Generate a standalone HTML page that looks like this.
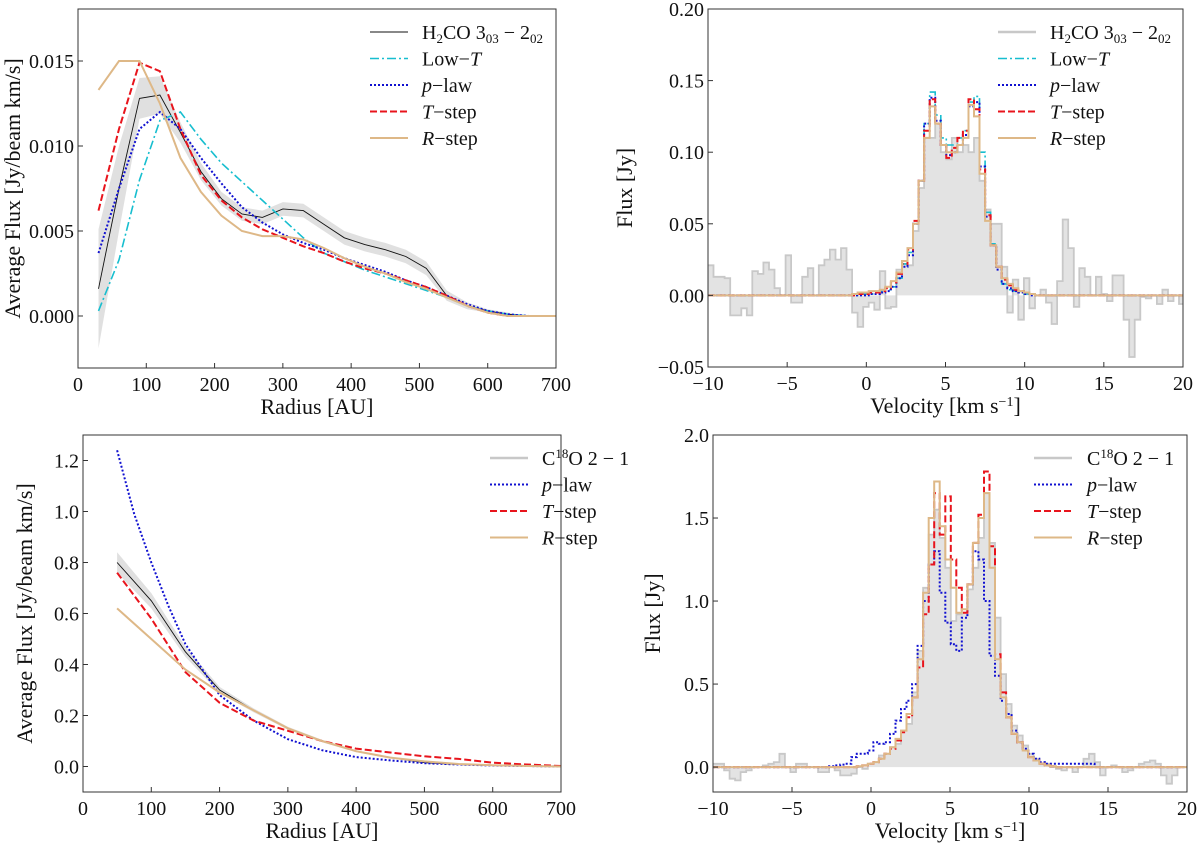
<!DOCTYPE html>
<html><head><meta charset="utf-8">
<style>
html,body{margin:0;padding:0;background:#fff;}
svg{display:block;}
svg text{font-family:"Liberation Serif","DejaVu Serif",serif;}
</style></head>
<body>
<svg id="fig" width="1200" height="845" viewBox="0 0 1200 845" xmlns="http://www.w3.org/2000/svg" font-family="'Liberation Serif', 'DejaVu Serif', serif"></svg>
<script>
// ---------- Data: top-left H2CO radial profile ----------
const tlR = [30,60,90,120,150,180,210,240,270,300,330,360,390,420,450,480,510,540,570,600,630,660,700];
const tlObs = [0.0016,0.0075,0.0128,0.0130,0.0108,0.0085,0.0069,0.0060,0.0058,0.0063,0.0062,0.0054,0.0046,0.0042,0.0039,0.0035,0.0028,0.0012,0.0006,0.0003,0.0001,0.0,0.0];
const tlErr = [0.0035,0.0025,0.0012,0.0011,0.0006,0.0005,0.0004,0.0004,0.0004,0.0004,0.0004,0.0004,0.0004,0.0004,0.0004,0.0004,0.0004,0.0003,0.0002,0.0001,0.0001,0.0,0.0];
const tlLowT = [0.0003,0.0033,0.0080,0.0115,0.0120,0.0104,0.0090,0.0079,0.0068,0.0057,0.0046,0.0037,0.0032,0.0027,0.0023,0.0019,0.0015,0.0011,0.0006,0.0003,0.0001,0.0,0.0];
const tlPlaw = [0.0037,0.0075,0.0110,0.0120,0.0110,0.0093,0.0078,0.0064,0.0055,0.0048,0.0043,0.0039,0.0034,0.0030,0.0026,0.0021,0.0017,0.0012,0.0007,0.0003,0.0001,0.0,0.0];
const tlTstep = [0.0062,0.0110,0.0149,0.0144,0.0110,0.0083,0.0068,0.0058,0.0051,0.0046,0.0041,0.0037,0.0032,0.0028,0.0025,0.0021,0.0017,0.0012,0.0006,0.0002,0.0,0.0,0.0];
const tlRstep = [0.0133,0.0150,0.0150,0.0125,0.0093,0.0073,0.0059,0.0050,0.0047,0.0047,0.0045,0.0040,0.0034,0.0029,0.0025,0.0020,0.0016,0.0011,0.0006,0.0002,0.0,0.0,0.0];
const tlYTicks = [0,0.005,0.010,0.015];
const tlYLabels = ["0.000","0.005","0.010","0.015"];
const radTicks = [0,100,200,300,400,500,600,700];

// ---------- Data: bottom-left C18O radial profile ----------
const blR = [50,100,150,200,250,300,350,400,450,500,550,600,650,700];
const blObs = [0.80,0.65,0.45,0.30,0.22,0.15,0.10,0.06,0.035,0.015,0.008,0.004,0.002,0.0];
const blErr = [0.04,0.03,0.02,0.012,0.008,0.006,0.005,0.004,0.003,0.002,0.001,0.001,0.0,0.0];
const blPR = [50,75,100,125,150,175,200,250,300,350,400,450,500,550,600,650,700];
const blPlaw = [1.24,0.99,0.80,0.63,0.48,0.38,0.28,0.18,0.107,0.064,0.037,0.024,0.013,0.008,0.004,0.002,0.0];
const blTstep = [0.76,0.58,0.37,0.25,0.18,0.14,0.10,0.07,0.055,0.04,0.03,0.015,0.008,0.002];
const blRstep = [0.62,0.50,0.38,0.29,0.22,0.15,0.10,0.06,0.035,0.02,0.01,0.005,0.002,0.0];
const blYTicks = [0,0.2,0.4,0.6,0.8,1.0,1.2];
const blYLabels = ["0.0","0.2","0.4","0.6","0.8","1.0","1.2"];

// ---------- Data: spectra (bins start at -10, width 0.35 km/s) ----------
const vStart = -10, vBin = 0.35;
const trObs = [0.021,0.013,0.013,0.012,-0.014,-0.014,-0.009,-0.014,0.017,0.015,0.023,0.018,0.005,0.0,0.028,-0.005,-0.005,0.013,0.019,0.0,0.021,0.025,0.032,0.025,0.033,0.018,-0.012,-0.022,-0.008,-0.005,-0.01,0.017,-0.009,-0.008,0.018,0.022,0.021,0.045,0.075,0.11,0.11,0.12,0.10,0.095,0.11,0.10,0.105,0.10,0.11,0.08,0.06,0.05,0.05,0.02,-0.012,0.011,-0.017,0.012,-0.009,0.0,0.004,-0.005,-0.02,0.01,0.053,0.033,-0.008,0.019,0.013,0.0,0.013,0.001,-0.004,0.014,0.014,-0.017,-0.043,-0.017,-0.001,-0.002,0.0,-0.006,0.004,-0.004,0.0,-0.006];
const trLowT = [0,0,0,0,0,0,0,0,0,0,0,0,0,0,0,0,0,0,0,0,0,0,0,0,0,0,0,0.001,0.001,0.001,0.002,0.003,0.004,0.006,0.012,0.022,0.03,0.05,0.08,0.12,0.142,0.126,0.11,0.105,0.105,0.11,0.115,0.135,0.139,0.10,0.058,0.036,0.02,0.008,0.004,0.003,0.002,0.001,0.001,0,0,0,0,0,0,0,0,0,0,0,0,0,0,0,0,0,0,0,0,0,0,0,0,0,0,0];
const trPlaw = [0,0,0,0,0,0,0,0,0,0,0,0,0,0,0,0,0,0,0,0,0,0,0,0,0,0,0,0.0,0.0,0.001,0.001,0.002,0.003,0.006,0.012,0.02,0.028,0.05,0.08,0.12,0.138,0.122,0.105,0.098,0.10,0.105,0.112,0.132,0.135,0.09,0.055,0.035,0.018,0.008,0.005,0.003,0.002,0.001,0,0,0,0,0,0,0,0,0,0,0,0,0,0,0,0,0,0,0,0,0,0,0,0,0,0,0,0];
const trTstep = [0,0,0,0,0,0,0,0,0,0,0,0,0,0,0,0,0,0,0,0,0,0,0,0,0,0,0,0.001,0.001,0.002,0.002,0.003,0.005,0.009,0.015,0.022,0.032,0.052,0.08,0.115,0.137,0.12,0.105,0.096,0.103,0.11,0.115,0.137,0.13,0.088,0.056,0.035,0.02,0.011,0.007,0.004,0.003,0.002,0.001,0,0,0,0,0,0,0,0,0,0,0,0,0,0,0,0,0,0,0,0,0,0,0,0,0,0,0];
const trRstep = [0,0,0,0,0,0,0,0,0,0,0,0,0,0,0,0,0,0,0,0,0,0,0,0,0,0,0.001,0.002,0.002,0.003,0.003,0.004,0.006,0.01,0.016,0.024,0.033,0.05,0.08,0.11,0.132,0.12,0.105,0.10,0.10,0.105,0.11,0.133,0.125,0.085,0.052,0.035,0.02,0.012,0.008,0.005,0.003,0.002,0.001,0,0,0,0,0,0,0,0,0,0,0,0,0,0,0,0,0,0,0,0,0,0,0,0,0,0,0];
const brObs = [0.02,0.02,-0.02,-0.07,-0.08,-0.03,-0.02,0.0,0.0,0.01,0.02,0.03,0.08,0.0,-0.03,0.02,0.02,0.0,0.0,-0.03,-0.03,0.0,-0.02,-0.05,-0.05,-0.04,0.0,-0.01,0.02,0.03,0.07,0.08,0.12,0.14,0.22,0.26,0.45,0.70,1.08,1.40,1.55,1.38,1.20,0.88,0.92,0.93,1.07,1.20,1.38,1.65,1.35,0.90,0.56,0.38,0.25,0.19,0.13,0.08,0.05,0.02,0.02,0.0,-0.01,-0.02,0.0,-0.03,0.0,0.05,0.08,0.03,-0.05,0.0,0.01,0.0,-0.03,-0.02,0.0,0.02,0.03,0.04,0.02,-0.05,-0.10,-0.05,0.0,0.0];
const brPlaw = [0,0,0,0,0,0,0,0,0,0,0,0,0,0,0,0,0,0,0,0,0,0.005,0.01,0.015,0.02,0.06,0.08,0.08,0.1,0.15,0.14,0.15,0.2,0.28,0.35,0.4,0.5,0.73,1.0,1.22,1.3,1.05,0.87,0.74,0.70,0.9,1.1,1.3,1.25,1.0,0.67,0.55,0.40,0.32,0.22,0.15,0.11,0.08,0.05,0.03,0.02,0.02,0.02,0.02,0.02,0.02,0.02,0.02,0.02,0,0,0,0,0,0,0,0,0,0,0,0,0,0,0,0,0];
const brTstep = [0,0,0,0,0,0,0,0,0,0,0,0,0,0,0,0,0,0,0,0,0,0,0,0,0,0,0.005,0.01,0.02,0.03,0.05,0.08,0.11,0.16,0.21,0.30,0.42,0.60,0.92,1.22,1.65,1.40,1.63,1.25,1.08,0.93,1.10,1.35,1.52,1.78,1.33,0.68,0.45,0.30,0.20,0.15,0.10,0.06,0.04,0.02,0.01,0.005,0,0,0,0,0,0,0,0,0,0,0,0,0,0,0,0,0,0,0,0,0,0,0,0];
const brRstep = [0,0,0,0,0,0,0,0,0,0,0,0,0,0,0,0,0,0,0,0,0,0,0,0,0,0,0.005,0.01,0.02,0.03,0.05,0.08,0.12,0.17,0.22,0.32,0.42,0.65,1.05,1.50,1.72,1.45,1.25,1.08,0.93,0.95,1.10,1.35,1.50,1.65,1.20,0.65,0.42,0.30,0.20,0.15,0.10,0.06,0.04,0.02,0.01,0.005,0,0,0,0,0,0,0,0,0,0,0,0,0,0,0,0,0,0,0,0,0,0,0,0];
const velTicks = [-10,-5,0,5,10,15,20];
const velLabels = ["\u221210","\u22125","0","5","10","15","20"];
const trYTicks = [-0.05,0,0.05,0.10,0.15,0.20];
const trYLabels = ["\u22120.05","0.00","0.05","0.10","0.15","0.20"];
const brYTicks = [0,0.5,1.0,1.5,2.0];
const brYLabels = ["0.0","0.5","1.0","1.5","2.0"];

// ---------- Drawing ----------
const NS = "http://www.w3.org/2000/svg";
const FONT = "'Liberation Serif', 'DejaVu Serif', serif";
const fig = document.getElementById('fig');
function mk(tag, attrs, parent){
  const e = document.createElementNS(NS, tag);
  for (const k in attrs) e.setAttribute(k, attrs[k]);
  if (tag === 'text') e.setAttribute('font-family', FONT);
  (parent||fig).appendChild(e);
  return e;
}
function makeAxes(name, x0, x1, y0, y1, xmin, xmax, ymin, ymax){
  const g = mk('g', {});
  
  
  const clipId = name + '-clip';
  const cp = mk('clipPath', {id: clipId}, g);
  mk('rect', {x:x0, y:y0, width:x1-x0, height:y1-y0}, cp);
  const plot = mk('g', {'clip-path':'url(#'+clipId+')'}, g);
  
  
  return {g, plot, x0, x1, y0, y1,
    sx: v => x0 + (v - xmin) / (xmax - xmin) * (x1 - x0),
    sy: v => y1 - (v - ymin) / (ymax - ymin) * (y1 - y0)};
}
function frame(ax, xt, xl, yt, yl, xlabel, ylabel, ylabX){
  const g = ax.g;
  const r = mk('rect', {x:ax.x0, y:ax.y0, width:ax.x1-ax.x0, height:ax.y1-ax.y0, fill:'none', stroke:'#333', 'stroke-width':1}, g);
  
  
  xt.forEach((t, i) => {
    const x = ax.sx(t);
    mk('line', {x1:x, x2:x, y1:ax.y1, y2:ax.y1-5, stroke:'#333', 'stroke-width':1}, g);
    const tx = mk('text', {x:x, y:ax.y1+23, 'text-anchor':'middle', 'font-size':20, fill:'#111'}, g);
    tx.textContent = xl[i];
    
    
  });
  yt.forEach((t, i) => {
    const y = ax.sy(t);
    mk('line', {x1:ax.x0, x2:ax.x0+5, y1:y, y2:y, stroke:'#333', 'stroke-width':1}, g);
    const tx = mk('text', {x:ax.x0-4, y:y+7, 'text-anchor':'end', 'font-size':20, fill:'#111'}, g);
    tx.textContent = yl[i];
    
    
  });
  const xlab = mk('text', {x:(ax.x0+ax.x1)/2, y:ax.y1+46, 'text-anchor':'middle', 'font-size':22, fill:'#111'}, g);
  xlab.innerHTML = xlabel;
  
  
  const cy = (ax.y0+ax.y1)/2;
  const ylab = mk('text', {x:ylabX, y:cy, 'text-anchor':'middle', 'font-size':22, fill:'#111', transform:'rotate(-90 '+ylabX+' '+cy+')'}, g);
  ylab.textContent = ylabel;
  
  
}
const STY = {
  obs:   {stroke:'#111', 'stroke-width':0.9, fill:'none'},
  lowT:  {stroke:'#17becf', 'stroke-width':1.6, fill:'none', 'stroke-dasharray':'9 3 2 3'},
  plaw:  {stroke:'#1010d0', 'stroke-width':2, fill:'none', 'stroke-dasharray':'2 2'},
  tstep: {stroke:'#e8141c', 'stroke-width':2, fill:'none', 'stroke-dasharray':'7 3'},
  rstep: {stroke:'#deb887', 'stroke-width':2, fill:'none'}
};
function line(ax, xs, ys, st, name){
  const d = xs.map((x,i)=>(i?'L':'M')+ax.sx(x).toFixed(1)+' '+ax.sy(ys[i]).toFixed(1)).join(' ');
  const p = mk('path', Object.assign({d}, st), ax.plot);
  
  
}
function band(ax, xs, ys, es, name){
  let d = xs.map((x,i)=>(i?'L':'M')+ax.sx(x).toFixed(1)+' '+ax.sy(ys[i]+es[i]).toFixed(1)).join(' ');
  for (let i = xs.length-1; i >= 0; i--) d += ' L'+ax.sx(xs[i]).toFixed(1)+' '+ax.sy(ys[i]-es[i]).toFixed(1);
  const p = mk('path', {d:d+' Z', fill:'#d8d8d8', 'fill-opacity':0.8, stroke:'none'}, ax.plot);
  
  
}
function stepPath(ax, vals){
  let d = '';
  vals.forEach((v,i)=>{
    const xa = ax.sx(vStart + i*vBin), xb = ax.sx(vStart + (i+1)*vBin), y = ax.sy(v);
    d += (i ? ' L' : 'M') + xa.toFixed(1)+' '+y.toFixed(1) + ' L' + xb.toFixed(1)+' '+y.toFixed(1);
  });
  return d;
}
function steps(ax, vals, st, name){
  const p = mk('path', Object.assign({d:stepPath(ax, vals)}, st), ax.plot);
  
  
}
function histFill(ax, vals, name){
  const y0 = ax.sy(0);
  let d = stepPath(ax, vals);
  d += ' L'+ax.sx(vStart+vals.length*vBin).toFixed(1)+' '+y0+' L'+ax.sx(vStart).toFixed(1)+' '+y0+' Z';
  const p = mk('path', {d, fill:'#e3e3e3', stroke:'none'}, ax.plot);
  
  
  const e = mk('path', {d:stepPath(ax, vals), fill:'none', stroke:'#c8c8c8', 'stroke-width':1.8}, ax.plot);
  
  
}
function legend(ax, lx, tx, y0, dy, entries){
  const g = mk('g', {}, ax.g);
  
  
  entries.forEach((en, i) => {
    const y = y0 + i*dy;
    const e = mk('g', {}, g);
    
    
    mk('line', Object.assign({x1:lx, x2:lx+38, y1:y, y2:y}, en[1]), e);
    const t = mk('text', {x:tx, y:y+7, 'font-size':20, fill:'#111'}, e);
    t.innerHTML = en[0];
  });
}
const obsGray = {stroke:'#c8c8c8', 'stroke-width':2.5, fill:'none'};
const LBL = {
  h2co: 'H<tspan dy="4" font-size="13">2</tspan><tspan dy="-4">CO 3</tspan><tspan dy="4" font-size="13">03</tspan><tspan dy="-4"> \u2212 2</tspan><tspan dy="4" font-size="13">02</tspan>',
  c18o: 'C<tspan dy="-7" font-size="13">18</tspan><tspan dy="7">O 2 \u2212 1</tspan>',
  lowT: 'Low\u2212<tspan font-style="italic">T</tspan>',
  plaw: '<tspan font-style="italic">p</tspan>\u2212law',
  tstep: '<tspan font-style="italic">T</tspan>\u2212step',
  rstep: '<tspan font-style="italic">R</tspan>\u2212step'
};

// Top-left
const tl = makeAxes('h2co-radial-panel', 78, 556, 9, 368, 0, 700, -0.00306, 0.01806);
band(tl, tlR, tlObs, tlErr, 'h2co-uncertainty-band');
line(tl, tlR, tlObs, STY.obs, 'h2co-observed-line');
line(tl, tlR, tlLowT, STY.lowT, 'lowT-model-line');
line(tl, tlR, tlPlaw, STY.plaw, 'plaw-model-line');
line(tl, tlR, tlTstep, STY.tstep, 'tstep-model-line');
line(tl, tlR, tlRstep, STY.rstep, 'rstep-model-line');
frame(tl, radTicks, radTicks.map(String), tlYTicks, tlYLabels, 'Radius [AU]', 'Average Flux [Jy/beam km/s]', 20);
legend(tl, 370, 422, 32, 26.5, [[LBL.h2co, STY.obs],[LBL.lowT, STY.lowT],[LBL.plaw, STY.plaw],[LBL.tstep, STY.tstep],[LBL.rstep, STY.rstep]]);

// Top-right
const tr = makeAxes('h2co-spectrum-panel', 708, 1183, 9, 367, -10, 20, -0.05, 0.20);
histFill(tr, trObs, 'h2co-observed-spectrum');
steps(tr, trLowT, STY.lowT, 'lowT-model-spectrum');
steps(tr, trPlaw, STY.plaw, 'plaw-model-spectrum');
steps(tr, trTstep, STY.tstep, 'tstep-model-spectrum');
steps(tr, trRstep, STY.rstep, 'rstep-model-spectrum');
frame(tr, velTicks, velLabels, trYTicks, trYLabels, 'Velocity [km s<tspan dy="-7" font-size="14">\u22121</tspan><tspan dy="7">]</tspan>', 'Flux [Jy]', 632);
legend(tr, 998, 1050, 32, 26.5, [[LBL.h2co, obsGray],[LBL.lowT, STY.lowT],[LBL.plaw, STY.plaw],[LBL.tstep, STY.tstep],[LBL.rstep, STY.rstep]]);

// Bottom-left
const bl = makeAxes('c18o-radial-panel', 83, 561, 435, 792, 0, 700, -0.1, 1.3);
band(bl, blR, blObs, blErr, 'c18o-uncertainty-band');
line(bl, blR, blObs, STY.obs, 'c18o-observed-line');
line(bl, blPR, blPlaw, STY.plaw, 'plaw-model-line');
line(bl, blR, blTstep, STY.tstep, 'tstep-model-line');
line(bl, blR, blRstep, STY.rstep, 'rstep-model-line');
frame(bl, radTicks, radTicks.map(String), blYTicks, blYLabels, 'Radius [AU]', 'Average Flux [Jy/beam km/s]', 32);
legend(bl, 490, 542, 458, 26.5, [[LBL.c18o, obsGray],[LBL.plaw, STY.plaw],[LBL.tstep, STY.tstep],[LBL.rstep, STY.rstep]]);

// Bottom-right
const br = makeAxes('c18o-spectrum-panel', 713, 1187, 435, 792, -10, 20, -0.15, 2.0);
histFill(br, brObs, 'c18o-observed-spectrum');
steps(br, brPlaw, STY.plaw, 'plaw-model-spectrum');
steps(br, brTstep, STY.tstep, 'tstep-model-spectrum');
steps(br, brRstep, STY.rstep, 'rstep-model-spectrum');
frame(br, velTicks, velLabels, brYTicks, brYLabels, 'Velocity [km s<tspan dy="-7" font-size="14">\u22121</tspan><tspan dy="7">]</tspan>', 'Flux [Jy]', 660);
legend(br, 1034, 1087, 458, 26.5, [[LBL.c18o, obsGray],[LBL.plaw, STY.plaw],[LBL.tstep, STY.tstep],[LBL.rstep, STY.rstep]]);
</script>
</body></html>
